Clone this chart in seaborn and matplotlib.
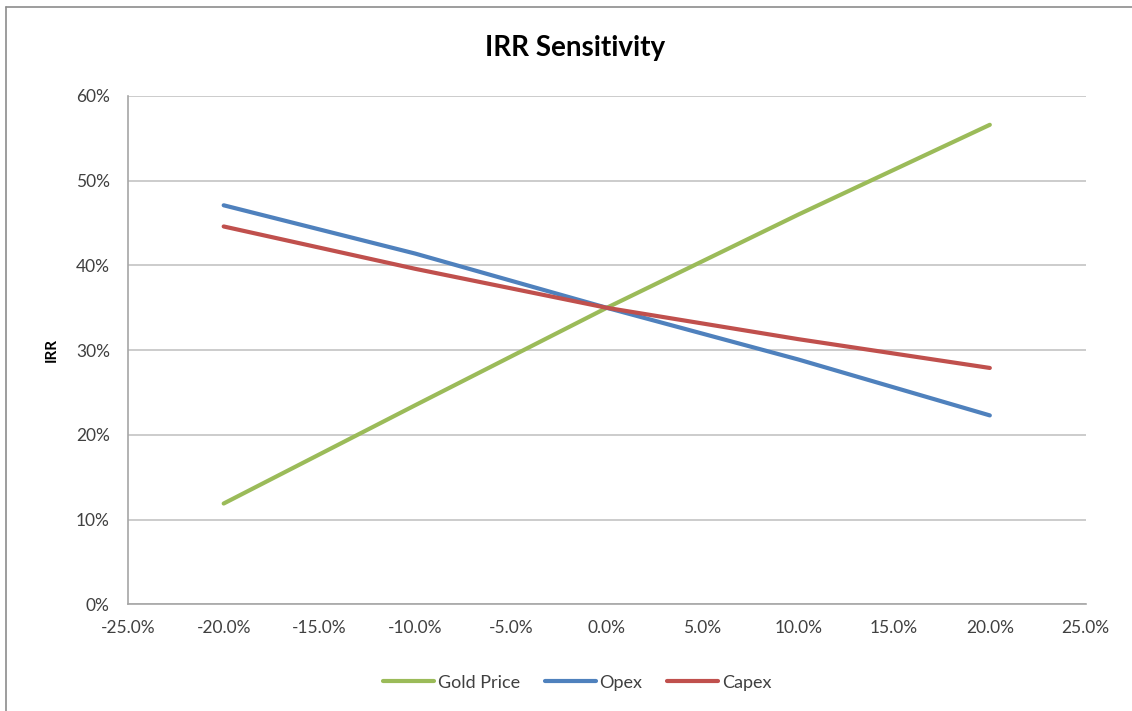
import seaborn as sns
import matplotlib.pyplot as plt
import matplotlib.ticker as mtick
from matplotlib.lines import Line2D
import pandas as pd

# sensitivity steps and IRR
change = [-0.20, -0.10, 0.0, 0.10, 0.20]
gold_price = [0.119, 0.235, 0.350, 0.460, 0.566]
opex = [0.471, 0.414, 0.350, 0.289, 0.223]
capex = [0.446, 0.396, 0.350, 0.313, 0.279]
series = ["Gold Price", "Opex", "Capex"]
colors = ["#9BBB59", "#4F81BD", "#C0504D"]

df = pd.DataFrame({
    "change": change * 3,
    "irr": gold_price + opex + capex,
    "series": [s for s in series for _ in change],
})

sns.set_theme(style="white")
plt.rcParams["font.family"] = ["Lato", "DejaVu Sans"]
plt.rcParams["axes.unicode_minus"] = False

fig = plt.figure(figsize=(11.32, 7.11), dpi=100)
ax = fig.add_axes([0.113, 0.150, 0.846, 0.715])

sns.lineplot(data=df, x="change", y="irr", hue="series", palette=colors,
             hue_order=series, linewidth=3, ax=ax, legend=False)

ax.set_xlim(-0.25, 0.25)
ax.set_ylim(0, 0.60)
ax.xaxis.set_major_locator(mtick.MultipleLocator(0.05))
ax.yaxis.set_major_locator(mtick.MultipleLocator(0.10))
ax.xaxis.set_major_formatter(mtick.PercentFormatter(1.0, decimals=1))
ax.yaxis.set_major_formatter(mtick.PercentFormatter(1.0, decimals=0))
ax.grid(axis="y", color="#C8C8C8", linewidth=1.3)
ax.set_axisbelow(True)

for side in ["top", "right"]:
    ax.spines[side].set_visible(False)
for side in ["left", "bottom"]:
    ax.spines[side].set_color("#A6A6A6")
    ax.spines[side].set_linewidth(1.2)
ax.tick_params(axis="both", direction="out", length=5, width=1.2,
               color="#A6A6A6", labelsize=12.5, labelcolor="#404040")
ax.tick_params(axis="x", pad=6)
ax.tick_params(axis="y", pad=8)

ax.set_xlabel("")
ax.set_ylabel("IRR", fontsize=11, fontweight="bold", color="#000000", labelpad=12)

fig.text(0.508, 0.932, "IRR Sensitivity", ha="center", va="center",
         fontsize=20, fontweight="bold", color="#000000")

handles = [Line2D([0], [0], color=c, linewidth=3) for c in colors]
fig.legend(handles, series, loc="center", bbox_to_anchor=(0.51, 0.04), ncol=3,
           frameon=False, fontsize=13, handlelength=2.8, handletextpad=0.2,
           columnspacing=1.4, labelcolor="#404040")

# chart frame
fig.add_artist(Line2D([0.005, 0.005], [0, 0.99], color="#8C8C8C", linewidth=1.2,
                      transform=fig.transFigure))
fig.add_artist(Line2D([0.005, 1.0], [0.99, 0.99], color="#8C8C8C", linewidth=1.2,
                      transform=fig.transFigure))

fig.savefig("out.png", dpi=100)
